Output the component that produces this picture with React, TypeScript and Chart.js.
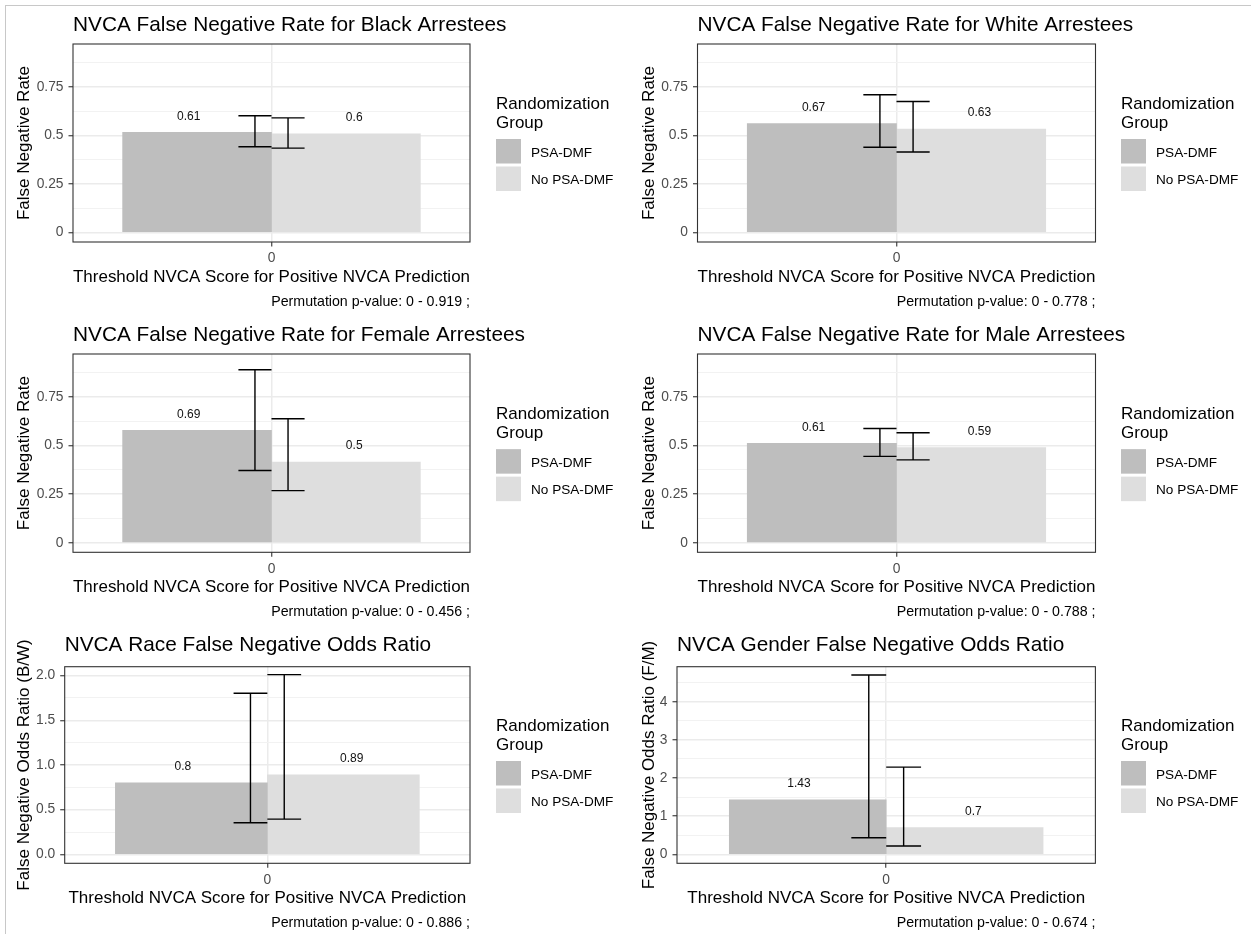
import React, { useEffect, useRef } from "react";
import { Chart, registerables } from "chart.js";

Chart.register(...registerables);

const FONT = "'Liberation Sans', Arial, Helvetica, sans-serif";

// ---------- data ----------
const GROUPS = ["PSA-DMF", "No PSA-DMF"];
const GROUP_COLORS = ["rgb(190,190,190)", "rgb(222,222,222)"];
const CATEGORY = 0;
const CATEGORY_LABELS = ["0"];
const X_TITLE = "Threshold NVCA Score for Positive NVCA Prediction";
const LEGEND_TITLE = ["Randomization", "Group"];

const TITLES = [
  "NVCA False Negative Rate for Black Arrestees",
  "NVCA False Negative Rate for White Arrestees",
  "NVCA False Negative Rate for Female Arrestees",
  "NVCA False Negative Rate for Male Arrestees",
  "NVCA Race False Negative Odds Ratio",
  "NVCA Gender False Negative Odds Ratio",
];
const Y_TITLES = [
  "False Negative Rate",
  "False Negative Rate",
  "False Negative Rate",
  "False Negative Rate",
  "False Negative Odds Ratio (B/W)",
  "False Negative Odds Ratio (F/M)",
];
const CAPTIONS = [
  "Permutation p-value: 0 - 0.919 ;",
  "Permutation p-value: 0 - 0.778 ;",
  "Permutation p-value: 0 - 0.456 ;",
  "Permutation p-value: 0 - 0.788 ;",
  "Permutation p-value: 0 - 0.886 ;",
  "Permutation p-value: 0 - 0.674 ;",
];

const blackRate = [0.515, 0.508];
const blackLow = [0.441, 0.434];
const blackHigh = [0.601, 0.59];
const blackLabels = ["0.61", "0.6"];

const whiteRate = [0.561, 0.532];
const whiteLow = [0.439, 0.414];
const whiteHigh = [0.709, 0.674];
const whiteLabels = ["0.67", "0.63"];

const femaleRate = [0.578, 0.415];
const femaleLow = [0.371, 0.268];
const femaleHigh = [0.889, 0.637];
const femaleLabels = ["0.69", "0.5"];

const maleRate = [0.511, 0.489];
const maleLow = [0.444, 0.426];
const maleHigh = [0.587, 0.565];
const maleLabels = ["0.61", "0.59"];

const raceOdds = [0.8, 0.89];
const raceLow = [0.353, 0.394];
const raceHigh = [1.803, 2.011];
const raceLabels = ["0.8", "0.89"];

const genderOdds = [1.43, 0.7];
const genderLow = [0.435, 0.217];
const genderHigh = [4.704, 2.287];
const genderLabels = ["1.43", "0.7"];

const rateTickValues = [0, 0.25, 0.5, 0.75];
const rateTickLabels = ["0", "0.25", "0.5", "0.75"];
const raceTickValues = [0, 0.5, 1, 1.5, 2];
const raceTickLabels = ["0.0", "0.5", "1.0", "1.5", "2.0"];
const genderTickValues = [0, 1, 2, 3, 4];
const genderTickLabels = ["0", "1", "2", "3", "4"];

// ---------- panel table ----------
const PANELS = [
  { values: blackRate, low: blackLow, high: blackHigh, labels: blackLabels, tv: rateTickValues, tl: rateTickLabels, yMin: -0.049, yMax: 0.97 },
  { values: whiteRate, low: whiteLow, high: whiteHigh, labels: whiteLabels, tv: rateTickValues, tl: rateTickLabels, yMin: -0.049, yMax: 0.97 },
  { values: femaleRate, low: femaleLow, high: femaleHigh, labels: femaleLabels, tv: rateTickValues, tl: rateTickLabels, yMin: -0.049, yMax: 0.97 },
  { values: maleRate, low: maleLow, high: maleHigh, labels: maleLabels, tv: rateTickValues, tl: rateTickLabels, yMin: -0.049, yMax: 0.97 },
  { values: raceOdds, low: raceLow, high: raceHigh, labels: raceLabels, tv: raceTickValues, tl: raceTickLabels, yMin: -0.1, yMax: 2.1 },
  { values: genderOdds, low: genderLow, high: genderHigh, labels: genderLabels, tv: genderTickValues, tl: genderTickLabels, yMin: -0.235, yMax: 4.92 },
].map((p, i) => ({ ...p, title: TITLES[i], yTitle: Y_TITLES[i], caption: CAPTIONS[i] }));

// ---------- layout (pixels, canvas-relative) ----------
const BOXES = [
  { left: 0, top: 0, width: 625, height: 310, plotLeft: 73, plotRight: 470, plotTop: 44, plotBottom: 242, titleY: 25 },
  { left: 625, top: 0, width: 626, height: 310, plotLeft: 72.5, plotRight: 470.5, plotTop: 44, plotBottom: 242, titleY: 25 },
  { left: 0, top: 310, width: 625, height: 312, plotLeft: 73, plotRight: 470, plotTop: 44, plotBottom: 242.3, titleY: 25 },
  { left: 625, top: 310, width: 626, height: 312, plotLeft: 72.5, plotRight: 470.5, plotTop: 44, plotBottom: 242.3, titleY: 25 },
  { left: 0, top: 622, width: 625, height: 312, plotLeft: 64.7, plotRight: 470, plotTop: 44.7, plotBottom: 241.3, titleY: 23 },
  { left: 625, top: 622, width: 626, height: 312, plotLeft: 52, plotRight: 470.4, plotTop: 44.7, plotBottom: 241.3, titleY: 23 },
];

const BAR_WIDTH = 0.45;
const ERR_DODGE = 0.1;
const ERR_HALF = 0.05;
const LABEL_DODGE = 0.5;
const X_HALF_RANGE = 0.6;
const LEGEND_X = 496;

function Panel({ index }: { index: number }) {
  const ref = useRef<HTMLCanvasElement | null>(null);
  const spec = PANELS[index];
  const box = BOXES[index];

  useEffect(() => {
    const canvas = ref.current;
    if (!canvas) return;

    const minorTicks: number[] = [];
    for (let i = 0; i < spec.tv.length; i++) {
      const step = spec.tv[1] - spec.tv[0];
      const m = spec.tv[i] + step / 2;
      if (m <= spec.yMax) minorTicks.push(m);
    }
    const allTicks = [...spec.tv, ...minorTicks].sort((a, b) => a - b);
    const isMajor = (v: number) => spec.tv.some((t) => Math.abs(t - v) < 1e-9);

    const xTitleY = box.plotBottom + 35;
    const captionY = box.plotBottom + 60;
    const xScaleHeight = xTitleY + 10.2 - box.plotBottom;

    const decor = {
      id: "decor",
      afterDatasetsDraw(chart: any) {
        const { ctx, chartArea: a } = chart;
        const x = chart.scales.x;
        const y = chart.scales.y;
        ctx.save();
        // error bars
        ctx.strokeStyle = "#000";
        ctx.lineWidth = 1.4;
        GROUPS.forEach((_, g) => {
          const c = CATEGORY + (g - 0.5) * ERR_DODGE;
          const xl = x.getPixelForValue(c - ERR_HALF);
          const xr = x.getPixelForValue(c + ERR_HALF);
          const xc = x.getPixelForValue(c);
          const yl = y.getPixelForValue(spec.low[g]);
          const yh = y.getPixelForValue(spec.high[g]);
          ctx.beginPath();
          ctx.moveTo(xl, yh);
          ctx.lineTo(xr, yh);
          ctx.moveTo(xc, yh);
          ctx.lineTo(xc, yl);
          ctx.moveTo(xl, yl);
          ctx.lineTo(xr, yl);
          ctx.stroke();
        });
        // value labels
        ctx.font = `12px ${FONT}`;
        ctx.fillStyle = "#111";
        ctx.textAlign = "center";
        ctx.textBaseline = "middle";
        GROUPS.forEach((_, g) => {
          const lx = x.getPixelForValue(CATEGORY + (g - 0.5) * LABEL_DODGE);
          const ly = y.getPixelForValue(spec.values[g]) - 16;
          ctx.fillText(spec.labels[g], lx, ly);
        });
        // panel border
        ctx.strokeStyle = "#333";
        ctx.lineWidth = 1.1;
        ctx.strokeRect(a.left, a.top, a.right - a.left, a.bottom - a.top);
        ctx.restore();
      },
      afterDraw(chart: any) {
        const { ctx, chartArea: a } = chart;
        ctx.save();
        // title
        ctx.fillStyle = "#000";
        ctx.font = `20.8px ${FONT}`;
        ctx.textAlign = "left";
        ctx.textBaseline = "middle";
        ctx.fillText(spec.title, a.left, box.titleY);
        // caption
        ctx.font = `14.2px ${FONT}`;
        ctx.textAlign = "right";
        ctx.fillText(spec.caption, a.right, captionY);
        // legend
        const cy = (a.top + a.bottom) / 2;
        ctx.textAlign = "left";
        ctx.font = `17px ${FONT}`;
        ctx.fillText(LEGEND_TITLE[0], LEGEND_X, cy - 38.7);
        ctx.fillText(LEGEND_TITLE[1], LEGEND_X, cy - 19.7);
        ctx.font = `13.6px ${FONT}`;
        chart.data.datasets.forEach((ds: any, g: number) => {
          const top = cy - 4 + g * 27.5;
          ctx.fillStyle = ds.backgroundColor;
          ctx.fillRect(LEGEND_X, top, 25, 24.5);
          ctx.fillStyle = "#000";
          ctx.fillText(ds.label, LEGEND_X + 35, top + 14);
        });
        ctx.restore();
      },
    };

    const chart = new Chart(canvas, {
      type: "bar",
      data: {
        datasets: GROUPS.map((name, g) => ({
          label: name,
          data: [{ x: CATEGORY + (g - 0.5) * BAR_WIDTH, y: spec.values[g] }],
          backgroundColor: GROUP_COLORS[g],
          borderWidth: 0,
          grouped: false,
          categoryPercentage: 1,
          barPercentage: 1,
        })),
      },
      options: {
        responsive: false,
        animation: false,
        events: [],
        layout: {
          padding: {
            left: 0,
            top: box.plotTop,
            right: box.width - box.plotRight,
            bottom: box.height - box.plotBottom - xScaleHeight,
          },
        },
        plugins: {
          legend: { display: false },
          tooltip: { enabled: false },
          title: { display: false },
        },
        scales: {
          x: {
            type: "linear",
            min: CATEGORY - X_HALF_RANGE,
            max: CATEGORY + X_HALF_RANGE,
            offset: false,
            afterBuildTicks: (s: any) => {
              s.ticks = [{ value: CATEGORY }];
            },
            afterFit: (s: any) => {
              s.height = xScaleHeight;
            },
            ticks: {
              callback: () => CATEGORY_LABELS[0],
              color: "#4d4d4d",
              font: { size: 13.8, family: FONT },
              padding: 3.8,
              maxRotation: 0,
              autoSkip: false,
            },
            grid: {
              offset: false,
              color: "#ebebeb",
              lineWidth: 1.5,
              tickColor: "#333",
              tickLength: 4.5,
              tickWidth: 1.1,
            },
            border: { display: false },
            title: {
              display: true,
              text: X_TITLE,
              color: "#000",
              font: { size: 17, family: FONT },
              padding: { top: 0, bottom: 0 },
            },
          },
          y: {
            type: "linear",
            min: spec.yMin,
            max: spec.yMax,
            afterBuildTicks: (s: any) => {
              s.ticks = allTicks.map((v) => ({ value: v }));
            },
            afterFit: (s: any) => {
              s.width = box.plotLeft;
            },
            ticks: {
              autoSkip: false,
              color: "#4d4d4d",
              font: { size: 13.8, family: FONT },
              padding: 5,
              callback: (v: any) => {
                const i = spec.tv.findIndex((t) => Math.abs(t - Number(v)) < 1e-9);
                return i >= 0 ? spec.tl[i] : "";
              },
            },
            grid: {
              color: (c: any) => (c.tick && isMajor(c.tick.value) ? "#ebebeb" : "#f2f2f2"),
              lineWidth: (c: any) => (c.tick && isMajor(c.tick.value) ? 1.5 : 1),
              tickColor: (c: any) => (c.tick && isMajor(c.tick.value) ? "#333" : "rgba(0,0,0,0)"),
              tickLength: 4.5,
              tickWidth: 1.1,
            },
            border: { display: false },
            title: {
              display: true,
              text: spec.yTitle,
              color: "#000",
              font: { size: 17, family: FONT },
              padding: { top: 13.8, bottom: 0 },
            },
          },
        },
      },
      plugins: [decor],
    } as any);

    return () => chart.destroy();
  }, [index]);

  return (
    <canvas
      ref={ref}
      width={box.width}
      height={box.height}
      style={{ position: "absolute", left: box.left, top: box.top, width: box.width, height: box.height }}
    />
  );
}

export default function App() {
  return (
    <div style={{ position: "absolute", left: 0, top: 0, width: 1251, height: 934, background: "#fff", overflow: "hidden" }}>
      {PANELS.map((_, i) => (
        <Panel key={i} index={i} />
      ))}
      <div
        style={{
          position: "absolute",
          left: 5,
          top: 5,
          width: 1260,
          height: 940,
          borderTop: "1px solid #c8c8c8",
          borderLeft: "1px solid #c8c8c8",
          pointerEvents: "none",
        }}
      />
    </div>
  );
}
